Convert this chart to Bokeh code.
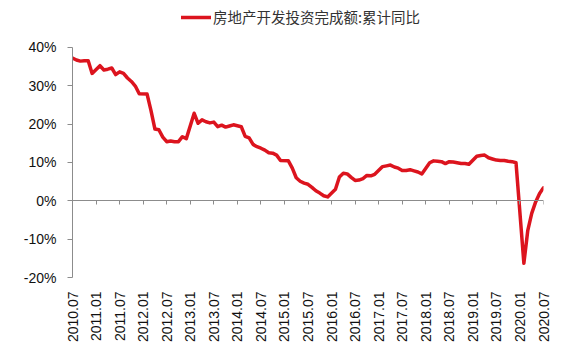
import math
from bokeh.plotting import figure
from bokeh.models import LinearAxis, FixedTicker, Range1d, Legend, LegendItem
from bokeh.embed import file_html
from bokeh.resources import INLINE

# ---- data ----
series_name = "房地产开发投资完成额:累计同比"
dates = [
    "2010.07", "2010.08", "2010.09", "2010.10", "2010.11", "2010.12",
    "2011.02", "2011.03", "2011.04", "2011.05", "2011.06", "2011.07", "2011.08", "2011.09", "2011.10", "2011.11", "2011.12",
    "2012.02", "2012.03", "2012.04", "2012.05", "2012.06", "2012.07", "2012.08", "2012.09", "2012.10", "2012.11", "2012.12",
    "2013.02", "2013.03", "2013.04", "2013.05", "2013.06", "2013.07", "2013.08", "2013.09", "2013.10", "2013.11", "2013.12",
    "2014.02", "2014.03", "2014.04", "2014.05", "2014.06", "2014.07", "2014.08", "2014.09", "2014.10", "2014.11", "2014.12",
    "2015.02", "2015.03", "2015.04", "2015.05", "2015.06", "2015.07", "2015.08", "2015.09", "2015.10", "2015.11", "2015.12",
    "2016.02", "2016.03", "2016.04", "2016.05", "2016.06", "2016.07", "2016.08", "2016.09", "2016.10", "2016.11", "2016.12",
    "2017.02", "2017.03", "2017.04", "2017.05", "2017.06", "2017.07", "2017.08", "2017.09", "2017.10", "2017.11", "2017.12",
    "2018.02", "2018.03", "2018.04", "2018.05", "2018.06", "2018.07", "2018.08", "2018.09", "2018.10", "2018.11", "2018.12",
    "2019.02", "2019.03", "2019.04", "2019.05", "2019.06", "2019.07", "2019.08", "2019.09", "2019.10", "2019.11", "2019.12",
    "2020.02", "2020.03", "2020.04", "2020.05", "2020.06", "2020.07",
]
values = [
    37.2, 36.7, 36.4, 36.5, 36.5, 33.2,
    35.2, 34.1, 34.3, 34.6, 32.9, 33.6, 33.2, 32.0, 31.1, 29.9, 27.9,
    27.8, 23.5, 18.7, 18.5, 16.6, 15.4, 15.6, 15.4, 15.4, 16.7, 16.2,
    22.8, 20.2, 21.1, 20.6, 20.3, 20.5, 19.3, 19.7, 19.2, 19.5, 19.8,
    19.3, 16.8, 16.4, 14.7, 14.1, 13.7, 13.2, 12.5, 12.4, 11.9, 10.5,
    10.4, 8.5, 6.0, 5.1, 4.6, 4.3, 3.5, 2.6, 2.0, 1.3, 1.0,
    3.0, 6.2, 7.2, 7.0, 6.1, 5.3, 5.4, 5.8, 6.6, 6.5, 6.9,
    8.9, 9.1, 9.3, 8.8, 8.5, 7.9, 7.9, 8.1, 7.8, 7.5, 7.0,
    9.9, 10.4, 10.3, 10.2, 9.7, 10.2, 10.1, 9.9, 9.7, 9.7, 9.5,
    11.6, 11.8, 11.9, 11.2, 10.9, 10.6, 10.5, 10.5, 10.3, 10.2, 9.9,
    -16.3, -7.7, -3.3, -0.3, 1.9, 3.4,
]
x_tick_labels = ["2010.07", "2011.01", "2011.07", "2012.01", "2012.07", "2013.01", "2013.07",
                 "2014.01", "2014.07", "2015.01", "2015.07", "2016.01", "2016.07", "2017.01",
                 "2017.07", "2018.01", "2018.07", "2019.01", "2019.07", "2020.01", "2020.07"]
y_ticks = [-20, -10, 0, 10, 20, 30, 40]
y_tick_labels = ["-20%", "-10%", "0%", "10%", "20%", "30%", "40%"]


def month_index(s):
    yy, mm = s.split(".")
    return (int(yy) - 2010) * 12 + int(mm) - 7


xs = [month_index(d) for d in dates]
x_ticks = [month_index(d) for d in x_tick_labels]

RED = "#DC141E"
GREY = "#8c8c8c"
FONT = "Liberation Sans"

# frame runs to the top of the page; the axis line is bounded to -20..40
p = figure(width=566, height=354, output_backend="svg", toolbar_location=None,
           x_range=Range1d(x_ticks[0], x_ticks[-1]), y_range=Range1d(-20, 52.2),
           x_axis_location=None, min_border_left=72, min_border_right=23,
           min_border_top=0, min_border_bottom=77)
p.outline_line_color = None
p.grid.visible = False
p.background_fill_color = "white"

r = p.line(xs, values, line_color=RED, line_width=3.5, line_join="round", line_cap="round")

# y axis
ya = p.yaxis[0]
ya.bounds = (y_ticks[0], y_ticks[-1])
ya.ticker = FixedTicker(ticks=y_ticks)
ya.major_label_overrides = {t: l for t, l in zip(y_ticks, y_tick_labels)}
ya.axis_line_color = GREY
ya.major_tick_line_color = GREY
ya.major_tick_out = 5
ya.major_tick_in = 0
ya.minor_tick_line_color = None
ya.major_label_standoff = 11
ya.major_label_text_font = FONT
ya.major_label_text_font_size = "14px"
ya.major_label_text_color = "#111111"

# bottom label axis
ax_lab = LinearAxis(ticker=FixedTicker(ticks=x_ticks),
                    major_label_overrides={t: l for t, l in zip(x_ticks, x_tick_labels)},
                    axis_line_color=None, major_tick_line_color=None, minor_tick_line_color=None,
                    major_label_orientation=math.pi / 2, major_label_standoff=8,
                    major_label_text_font=FONT, major_label_text_font_size="14px",
                    major_label_text_color="#111111")
p.add_layout(ax_lab, "below")

# zero-line axis with ticks
ax0 = LinearAxis(ticker=FixedTicker(ticks=x_ticks), fixed_location=0,
                 axis_line_color=GREY, major_tick_line_color=GREY, minor_tick_line_color=None,
                 major_tick_out=4, major_tick_in=0, major_label_text_font_size="0px",
                 major_label_text_alpha=0)
p.add_layout(ax0, "below")

legend = Legend(items=[LegendItem(label=series_name, renderers=[r])],
                location=(109, 250), orientation="horizontal",
                label_text_font="Noto Sans CJK SC", label_text_font_size="14.5px",
                label_text_color="#333333", glyph_width=30, label_standoff=2,
                border_line_color=None, background_fill_alpha=0, padding=0, margin=0)
p.add_layout(legend, "center")

open("out.html", "w").write(file_html(p, INLINE))
